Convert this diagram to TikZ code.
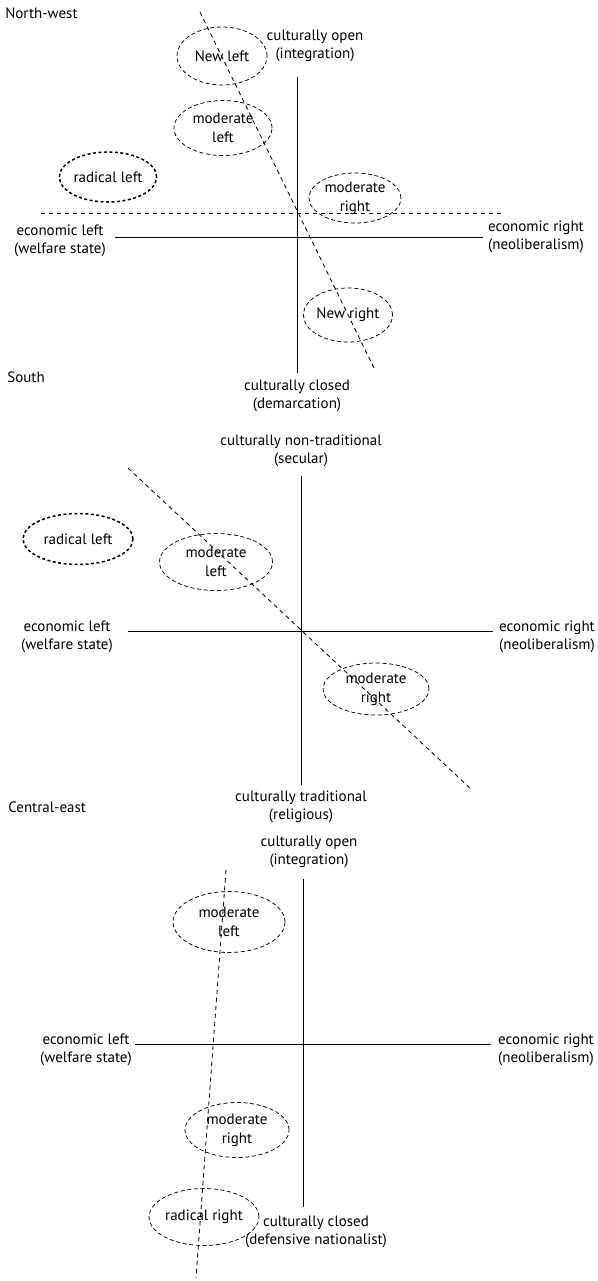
\documentclass[tikz,border=0pt]{standalone}
\usepackage{fontspec}
\setmainfont{PT Sans}
\usepackage{tikz}
\usetikzlibrary{shapes.geometric}

\tikzset{
  lbl/.style={align=center, inner sep=0pt, font=\fontsize{9}{10.8}\selectfont},
  region/.style={lbl, anchor=west},
  party/.style={ellipse, draw, inner sep=0pt, line width=0.45pt,
    dash pattern=on 2.4pt off 1.6pt, align=center, font=\fontsize{9}{11.2}\selectfont},
  radical/.style={party, line width=0.9pt, dash pattern=on 1.8pt off 1.5pt},
  axis/.style={line width=0.55pt},
  divide/.style={line width=0.5pt, dash pattern=on 2.6pt off 2.2pt}
}

\begin{document}
\begin{tikzpicture}[x=0.6pt, y=-0.6pt]
  \useasboundingbox (0,0) rectangle (597,1281);

  % north-west
  \node[region] (nw) at (5,13) {North-west};
  \coordinate (nwT) at (297,77);  \coordinate (nwB) at (297,373);
  \coordinate (nwL) at (115,237); \coordinate (nwR) at (483,237);
  \coordinate (nwDL) at (41,213); \coordinate (nwDR) at (503,213);
  \coordinate (nwST) at (200,12); \coordinate (nwSB) at (375,370);
  \draw[axis] (nwT) -- (nwB);
  \draw[axis] (nwL) -- (nwR);
  \draw[divide] (nwDL) -- (nwDR);
  \draw[divide] (nwST) -- (nwSB);
  \node[lbl] (openA) at (315,46) {culturally open\\(integration)};
  \node[lbl] (eleftA) at (60,241) {economic left\\(welfare state)};
  \node[lbl] (erightA) at (536,237) {economic right\\(neoliberalism)};
  \node[lbl] (closedA) at (297,396) {culturally closed\\(demarcation)};
  \node[party, minimum width=54pt, minimum height=34.8pt] (newleft) at (222,56) {New left};
  \node[party, minimum width=58.8pt, minimum height=33pt] (modleftA) at (223,128) {moderate\\left};
  \node[radical, minimum width=56.4pt, minimum height=30pt] (radleftA) at (108,177) {radical left};
  \node[party, minimum width=55.2pt, minimum height=30pt] (modrightA) at (355,198) {moderate\\right};
  \node[party, minimum width=50.4pt, minimum height=32.4pt] (newright) at (348,315) {New right};

  % south
  \node[region] (south) at (7,377) {South};
  \coordinate (soT) at (301,476);  \coordinate (soB) at (301,785);
  \coordinate (soL) at (128,631);  \coordinate (soR) at (493,631);
  \coordinate (soST) at (128,468); \coordinate (soSB) at (472,790);
  \draw[axis] (soT) -- (soB);
  \draw[axis] (soL) -- (soR);
  \draw[divide] (soST) -- (soSB);
  \node[lbl] (nontradB) at (301,451) {culturally non-traditional\\(secular)};
  \node[lbl] (eleftB) at (67,637) {economic left\\(welfare state)};
  \node[lbl] (erightB) at (547,637) {economic right\\(neoliberalism)};
  \node[lbl] (tradB) at (301,807) {culturally traditional\\(religious)};
  \node[radical, minimum width=66pt, minimum height=30.6pt] (radleftB) at (78,539) {radical left};
  \node[party, minimum width=67.8pt, minimum height=34.2pt] (modleftB) at (216,562) {moderate\\left};
  \node[party, minimum width=63.6pt, minimum height=31.2pt] (modrightB) at (376,689) {moderate\\right};

  % central-east
  \node[region] (ce) at (8,807) {Central-east};
  \coordinate (ceT) at (303,879);  \coordinate (ceB) at (303,1207);
  \coordinate (ceL) at (135,1044); \coordinate (ceR) at (491,1044);
  \coordinate (ceST) at (226,870); \coordinate (ceSB) at (196,1278);
  \draw[axis] (ceT) -- (ceB);
  \draw[axis] (ceL) -- (ceR);
  \draw[divide] (ceST) -- (ceSB);
  \node[lbl] (openC) at (309,852) {culturally open\\(integration)};
  \node[lbl] (eleftC) at (86,1050) {economic left\\(welfare state)};
  \node[lbl] (erightC) at (546,1050) {economic right\\(neoliberalism)};
  \node[lbl] (closedC) at (316,1232) {culturally closed\\(defensive nationalist)};
  \node[party, minimum width=67.2pt, minimum height=36.6pt] (modleftC) at (229,922) {moderate\\left};
  \node[party, minimum width=62.4pt, minimum height=33pt] (modrightC) at (237,1130) {moderate\\right};
  \node[party, minimum width=56.4pt, minimum height=34.2pt] (radrightC) at (204,1217) {radical right};
\end{tikzpicture}
\end{document}
